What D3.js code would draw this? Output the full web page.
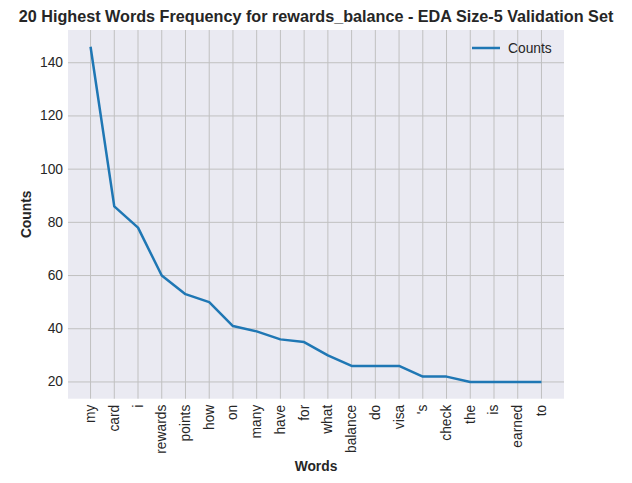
<!DOCTYPE html>
<html><head><meta charset="utf-8">
<script src="https://cdn.jsdelivr.net/npm/d3@7"></script>
<style>body{margin:0;background:#fff}text{font-family:"Liberation Sans",Arial,sans-serif;fill:#262626}</style>
</head><body><svg id="c" width="632" height="483"></svg>
<script>
const words=["my","card","i","rewards","points","how","on","many","have","for","what","balance","do","visa","'s","check","the","is","earned","to"];
const counts=[146,86,78,60,53,50,41,39,36,35,30,26,26,26,22,22,20,20,20,20];
const yTicks=[20,40,60,80,100,120,140];
const svg=d3.select("#c");
const L=68,R=564,T=30,B=398.7;
const x=d3.scaleLinear().domain([-0.95,words.length-1+0.95]).range([L,R]);
const y=d3.scaleLinear().domain([13.7,152.3]).range([B,T]);
svg.append("rect").attr("x",L).attr("y",T).attr("width",R-L).attr("height",B-T).attr("fill","#eaeaf2");
const g=svg.append("g");
words.forEach((w,i)=>{
  g.append("line").attr("x1",x(i)).attr("x2",x(i)).attr("y1",T).attr("y2",B).attr("stroke","#c0c0c0").attr("stroke-width",1);
  g.append("text").attr("transform",`translate(${x(i)+4.5},${B+6}) rotate(-90)`).attr("text-anchor","end").attr("font-size",13.8).text(w);
});
yTicks.forEach(t=>{
  g.append("line").attr("x1",L).attr("x2",R).attr("y1",y(t)).attr("y2",y(t)).attr("stroke","#c0c0c0").attr("stroke-width",1);
  g.append("text").attr("x",L-5).attr("y",y(t)+4.5).attr("text-anchor","end").attr("font-size",13.8).text(t);
});
const line=d3.line().x((d,i)=>x(i)).y(d=>y(d));
svg.append("path").datum(counts).attr("d",line).attr("fill","none").attr("stroke","#1f77b4").attr("stroke-width",2.5).attr("stroke-linejoin","round");
svg.append("text").attr("x",316).attr("y",22).attr("text-anchor","middle").attr("font-size",16.2).attr("font-weight","bold").text("20 Highest Words Frequency for rewards_balance - EDA Size-5 Validation Set");
svg.append("text").attr("x",(L+R)/2).attr("y",471).attr("text-anchor","middle").attr("font-size",13.8).attr("font-weight","bold").text("Words");
svg.append("text").attr("transform",`translate(31,${(T+B)/2}) rotate(-90)`).attr("text-anchor","middle").attr("font-size",13.8).attr("font-weight","bold").text("Counts");
svg.append("line").attr("x1",472).attr("x2",500).attr("y1",48).attr("y2",48).attr("stroke","#1f77b4").attr("stroke-width",2.5);
svg.append("text").attr("x",508).attr("y",53).attr("font-size",13.8).text("Counts");
</script></body></html>
